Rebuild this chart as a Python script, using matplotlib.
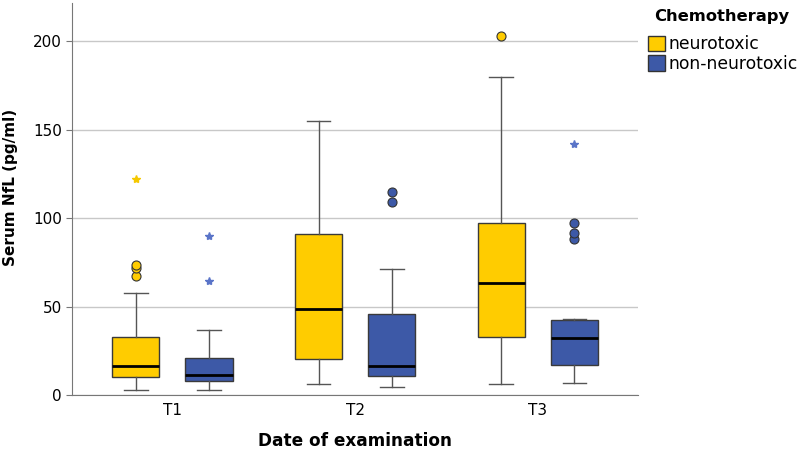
import numpy as np
import matplotlib.pyplot as plt
from matplotlib.patches import Patch

groups = ["T1", "T2", "T3"]

# neurotoxic chemotherapy
neuro_lo = [3, 6, 6]
neuro_q1 = [10, 20.5, 33]
neuro_med = [16.5, 48.5, 63.5]
neuro_q3 = [32.5, 91, 97.5]
neuro_hi = [57.5, 155, 180]
neuro_out = [[67, 72, 73.5], [], [203]]
neuro_extreme = [[122], [], []]

# non-neurotoxic chemotherapy
non_lo = [3, 4.5, 7]
non_q1 = [8, 10.5, 17]
non_med = [11.5, 16.5, 32]
non_q3 = [21, 46, 42.5]
non_hi = [37, 71, 43]
non_out = [[], [109, 114.5], [88, 91.5, 97]]
non_extreme = [[64.5, 90], [], [142]]

yellow = "#FFCC00"
blue = "#3D59A7"
star_yellow = "#F5C800"
star_blue = "#5A74C8"

fig = plt.figure(figsize=(7.97, 4.54), dpi=100)
ax = fig.add_axes([0.09, 0.13, 0.711, 0.863])

x = np.arange(1, len(groups) + 1)
off = 0.2
width = 0.26


def make_stats(lo, q1, med, q3, hi, out):
    return [dict(whislo=lo[i], q1=q1[i], med=med[i], q3=q3[i], whishi=hi[i],
                 fliers=out[i]) for i in range(len(lo))]


for stats, pos, col, ext, scol in [
        (make_stats(neuro_lo, neuro_q1, neuro_med, neuro_q3, neuro_hi, neuro_out),
         x - off, yellow, neuro_extreme, star_yellow),
        (make_stats(non_lo, non_q1, non_med, non_q3, non_hi, non_out),
         x + off, blue, non_extreme, star_blue)]:
    ax.bxp(stats, positions=pos, widths=width, patch_artist=True,
           boxprops=dict(facecolor=col, edgecolor="#3a3a3a", linewidth=1),
           medianprops=dict(color="black", linewidth=2),
           whiskerprops=dict(color="#555555", linewidth=1),
           capprops=dict(color="#555555", linewidth=1),
           capwidths=width / 2,
           flierprops=dict(marker="o", markerfacecolor=col, markeredgecolor="#333333",
                           markersize=6.5, markeredgewidth=0.8),
           manage_ticks=False)
    for i, vals in enumerate(ext):
        ax.plot([pos[i]] * len(vals), vals, linestyle="none", marker="*",
                color=scol, markersize=6)

ax.set_xlim(0.45, 3.55)
ax.set_ylim(0, 221.5)
ax.set_xticks(x)
ax.set_xticklabels(groups, fontsize=11)
ax.set_yticks([0, 50, 100, 150, 200])
ax.tick_params(axis="y", labelsize=11, length=4, pad=3, color="#777777")
ax.tick_params(axis="x", length=0, pad=6)
ax.yaxis.grid(True, color="#c8c8c8", linewidth=1)
ax.set_axisbelow(True)
for s in ["top", "right"]:
    ax.spines[s].set_visible(False)
for s in ["left", "bottom"]:
    ax.spines[s].set_color("#777777")

ax.set_xlabel("Date of examination", fontsize=12.2, fontweight="bold", labelpad=10)
ax.set_ylabel("Serum NfL (pg/ml)", fontsize=11, fontweight="bold", labelpad=10)
ax.yaxis.set_label_coords(-0.095, 0.53)

fig.text(722 / 797, 1 - 17 / 454, "Chemotherapy", fontsize=11.8, fontweight="bold",
         ha="center", va="center")
handles = [Patch(facecolor=yellow, edgecolor="#333333", label="neurotoxic"),
           Patch(facecolor=blue, edgecolor="#333333", label="non-neurotoxic")]
leg = fig.legend(handles=handles, loc="upper left",
                 bbox_to_anchor=(0.804, 0.937), frameon=False, fontsize=12.3,
                 handlelength=1.0, handleheight=1.0, handletextpad=0.2,
                 labelspacing=0.08, borderaxespad=0)

fig.savefig("out.png", dpi=100)
